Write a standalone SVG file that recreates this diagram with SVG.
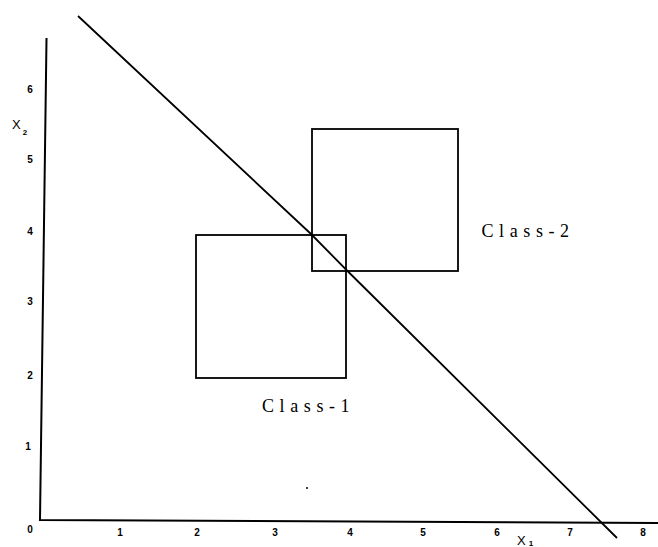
<svg xmlns="http://www.w3.org/2000/svg" width="658" height="547" viewBox="0 0 658 547">
<style>
.ax{fill:none;stroke:#000;stroke-width:2;stroke-linecap:square}
.box{fill:none;stroke:#000;stroke-width:1.8}
.dl{fill:none;stroke:#000;stroke-width:1.8}
.tk{font-family:"Liberation Sans",Arial,sans-serif;font-weight:bold;font-size:10px;fill:#000;text-anchor:middle}
.cl{font-family:"Liberation Serif","Times New Roman",serif;font-size:18px;letter-spacing:5.6px;fill:#000}
.axl{font-family:"Liberation Sans",Arial,sans-serif;font-size:13px;fill:#000}
.sub{font-family:"Liberation Sans",Arial,sans-serif;font-weight:bold;font-size:8px;fill:#000}
</style>
<rect width="658" height="547" fill="#fff"/>
<g id="axes">
<path class="ax" d="M46.5,39 L40,520 L658,523"/>
</g>
<g id="y-ticks">
<text class="tk" x="30" y="93">6</text>
<text class="tk" x="30" y="163">5</text>
<text class="tk" x="30" y="235">4</text>
<text class="tk" x="30" y="305">3</text>
<text class="tk" x="30" y="379">2</text>
<text class="tk" x="28" y="450">1</text>
<text class="tk" x="30" y="533">0</text>
</g>
<g id="x-ticks">
<text class="tk" x="120" y="536">1</text>
<text class="tk" x="197" y="536">2</text>
<text class="tk" x="275" y="536">3</text>
<text class="tk" x="350" y="536">4</text>
<text class="tk" x="423" y="536">5</text>
<text class="tk" x="497" y="536">6</text>
<text class="tk" x="570" y="536">7</text>
<text class="tk" x="643" y="536">8</text>
</g>
<g id="x2-label">
<text class="axl" x="12" y="128.5">X<tspan class="sub" dx="2" dy="6">2</tspan></text>
</g>
<g id="x1-label">
<text class="axl" x="517" y="544.5">X<tspan class="sub" dx="3" dy="1.5" font-size="6.5">1</tspan></text>
</g>
<g id="class1">
<rect class="box" x="196" y="235" width="150" height="143"/>
<text class="cl" x="262" y="411.5">Class-1</text>
</g>
<g id="class2">
<rect class="box" x="312" y="129" width="146" height="142"/>
<text class="cl" x="481.5" y="236.5">Class-2</text>
</g>
<g id="connectors">
<path class="dl" d="M78,16 L311,234 L347,270.5 L617,538"/>
</g>
<circle cx="307" cy="488" r="1" fill="#000"/>
</svg>
